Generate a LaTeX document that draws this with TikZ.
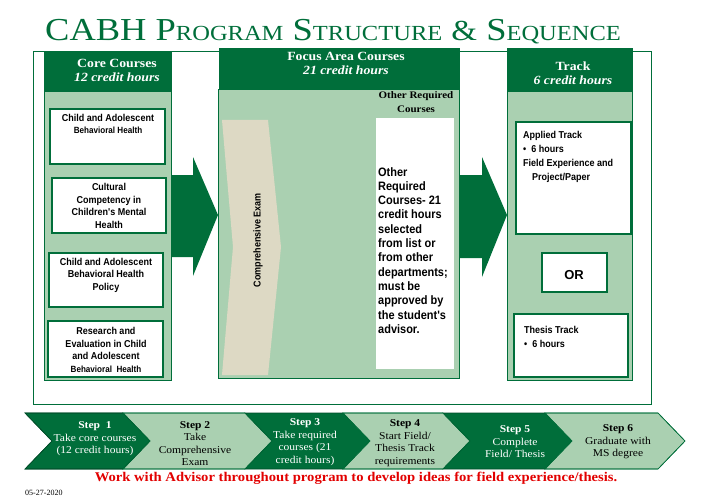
\documentclass[tikz,border=0pt]{standalone}
\usepackage{fontspec}
\usetikzlibrary{fit}
\setmainfont{Liberation Serif}
\newfontfamily\wserif[FakeStretch=1.1]{Liberation Serif}
\newfontfamily\titlefont[FakeStretch=1.14]{Liberation Serif}
\newfontfamily\nsans[FakeStretch=0.9]{Liberation Sans}
\newfontfamily\rsans{Liberation Sans}
\definecolor{dk}{RGB}{0,110,58}
\definecolor{lt}{RGB}{170,208,177}
\definecolor{beige}{RGB}{221,217,196}
\definecolor{redtxt}{RGB}{226,0,0}
\newcommand\fs[2]{\fontsize{#1}{#2}\selectfont}
\tikzset{
  hdr/.style={fill=dk, draw=dk, inner sep=0pt},
  colbody/.style={fill=lt, draw=dk, line width=0.8pt, inner sep=0pt},
  wbox/.style={fill=white, draw=dk, line width=1.2pt, inner sep=0pt},
  plainw/.style={fill=white, draw=none, inner sep=0pt},
  blockarrow/.style={fill=dk, draw=none},
  stepdk/.style={fill=dk, draw=dk!70!black, line width=0.6pt},
  steplt/.style={fill=lt, draw=dk, line width=0.6pt},
  htxt/.style={text=white, font=\wserif\bfseries\fs{12.5}{14}, align=center, inner sep=0pt},
  boxtxt/.style={font=\nsans\bfseries\fs{10}{12.5}, align=center, inner sep=0pt},
  lefttxt/.style={font=\nsans\bfseries\fs{10}{14}, align=left, inner sep=0pt, anchor=north west},
  steptxt/.style={font=\wserif\fs{10.5}{12.5}, align=center, inner sep=0pt},
}
\begin{document}
\begin{tikzpicture}[x=1pt,y=-1pt]
\useasboundingbox (0,0) rectangle (720,500);
% title
\node[text=dk, anchor=base west, inner sep=0pt] (title) at (45,41)
  {\titlefont\fs{32}{32}CABH P{\fs{21.5}{22}ROGRAM} S{\fs{21.5}{22}TRUCTURE} {\fs{29}{30}\&} S{\fs{21.5}{22}EQUENCE}};
% frame
\node[draw=dk, line width=0.9pt, inner sep=0pt, fit={(33,51) (651,404)}] (frame) {};
% columns
\node[colbody, fit={(44,91) (171,380)}] (corebody) {};
\node[hdr, fit={(44,51) (171,91)}] (corehdr) {};
\node[colbody, fit={(218,89) (459,378)}] (focbody) {};
\node[hdr, fit={(219,48) (459,89)}] (fochdr) {};
\node[colbody, fit={(507,91) (632,380)}] (trbody) {};
\node[hdr, fit={(507,48) (632,91)}] (trhdr) {};
% header texts
\node[htxt] (coret) at (117,70) {Core Courses\\\itshape 12 credit hours};
\node[htxt] (foct) at (346,63) {Focus Area Courses\\\itshape 21 credit hours};
\node[htxt] (trt) at (573,73) {Track\\\itshape 6 credit hours};
% core boxes
\node[wbox, fit={(50,109) (165,164)}] (b1) {};
\node[wbox, fit={(52,178) (166,233)}] (b2) {};
\node[wbox, fit={(49,253) (163,307)}] (b3) {};
\node[wbox, fit={(48,321) (163,377)}] (b4) {};
\node[boxtxt, anchor=north] (b1t) at (108,114) {Child and Adolescent\\{\fs{9}{12.5}Behavioral Health}};
\node[boxtxt] (b2t) at (109,206) {Cultural\\Competency in\\Children's Mental\\Health};
\node[boxtxt] (b3t) at (106,275) {Child and Adolescent\\Behavioral Health\\Policy};
\node[boxtxt] (b4t) at (106,350) {Research and\\Evaluation in Child\\and Adolescent\\{\fs{9}{12.5}Behavioral\ \ Health}};
% arrows
\coordinate (a1s) at (172,216);
\coordinate (a2s) at (459,216);
\fill[blockarrow] (172,175) -- (193,175) -- (193,157) -- (218,215) -- (193,276) -- (193,257) -- (172,257) -- cycle;
\fill[blockarrow] (459,175) -- (482,175) -- (482,157) -- (507,215) -- (482,277) -- (482,258) -- (459,258) -- cycle;
% comprehensive exam chevron
\fill[beige] (222,120) -- (268,120) -- (281,247) -- (268,375) -- (222,375) -- (233,247) -- cycle;
\node[font=\nsans\bfseries\fs{10}{12}, rotate=90, inner sep=0pt] (exam) at (258,240) {Comprehensive Exam};
% other required
\node[font=\wserif\bfseries\fs{10}{14}, align=center, inner sep=0pt] (ort) at (416,102) {Other Required\\Courses};
\node[plainw, fit={(376,118) (454,369)}] (orbox) {};
\node[font=\nsans\bfseries\fs{12.2}{14.3}, align=left, inner sep=0pt, anchor=north west] (orbt) at (378,167)
 {Other\\Required\\Courses- 21\\credit hours\\selected\\from list or\\from other\\departments;\\must be\\approved by\\the student's\\advisor.};
% track boxes
\node[wbox, fit={(516,122) (631,234)}] (app) {};
\node[wbox, fit={(542,253) (607,292)}] (or) {};
\node[wbox, fit={(514,314) (628,377)}] (thes) {};
\node[lefttxt] (appt) at (523,131) {Applied Track\\\textbullet\ \ 6 hours\\Field Experience and\\\hspace*{9pt}Project/Paper};
\node[font=\rsans\bfseries\fs{13}{14}, inner sep=0pt] (ort2) at (574,275) {OR};
\node[lefttxt] (thest) at (524,326) {Thesis Track\\\textbullet\ \ 6 hours};
% steps
\fill[stepdk] (25,413) -- (123,413) -- (150,441) -- (123,469) -- (25,469) -- (52,441) -- cycle;
\fill[steplt] (123,413) -- (245,413) -- (272,441) -- (245,469) -- (123,469) -- (150,441) -- cycle;
\fill[stepdk] (245,413) -- (343,413) -- (370,441) -- (343,469) -- (245,469) -- (272,441) -- cycle;
\fill[steplt] (343,413) -- (443,413) -- (470,441) -- (443,469) -- (343,469) -- (370,441) -- cycle;
\fill[stepdk] (443,413) -- (545,413) -- (572,441) -- (545,469) -- (443,469) -- (470,441) -- cycle;
\fill[steplt] (545,413) -- (658,413) -- (685,441) -- (658,469) -- (545,469) -- (572,441) -- cycle;
\draw[dk!70!black, line width=0.6pt] (25,413) -- (123,413) -- (150,441) -- (123,469) -- (25,469) -- (52,441) -- cycle;
\draw[dk, line width=0.6pt] (123,413) -- (245,413) -- (272,441) -- (245,469) -- (123,469) -- (150,441) -- cycle;
\draw[dk, line width=0.6pt] (343,413) -- (443,413) -- (470,441) -- (443,469) -- (343,469) -- (370,441) -- cycle;
\draw[dk, line width=0.6pt] (545,413) -- (658,413) -- (685,441) -- (658,469) -- (545,469) -- (572,441) -- cycle;
\node[steptxt, text=white] (s1) at (95,439) {\textbf{Step\ \ 1}\\Take core courses\\(12 credit hours)};
\node[steptxt] (s2) at (195,443.5) {\textbf{Step 2}\\Take\\Comprehensive\\Exam};
\node[steptxt, text=white] (s3) at (305,442) {\textbf{Step 3}\\Take required\\courses (21\\credit hours)};
\node[steptxt] (s4) at (405,443) {\textbf{Step 4}\\Start Field/\\Thesis Track\\requirements};
\node[steptxt, text=white] (s5) at (515,442) {\textbf{Step 5}\\Complete\\Field/ Thesis};
\node[steptxt] (s6) at (618,442) {\textbf{Step 6}\\Graduate with\\MS degree};
% footer
\node[text=redtxt, font=\wserif\bfseries\fs{13.3}{14}, inner sep=0pt] (work) at (356,478)
  {Work with Advisor throughout program to develop ideas for field experience/thesis.};
\node[font=\fs{8}{9}, anchor=west, inner sep=0pt] (date) at (25,493) {05-27-2020};
\end{tikzpicture}
\end{document}
